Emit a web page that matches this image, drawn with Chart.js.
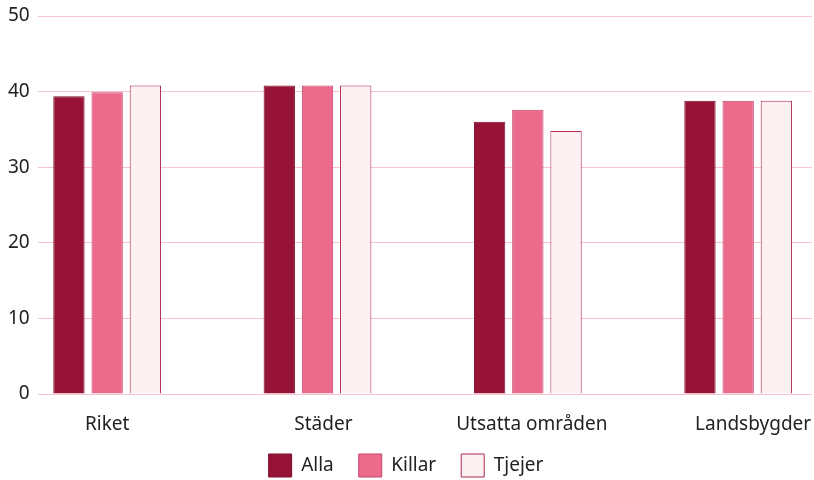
<!DOCTYPE html>
<html>
<head>
<meta charset="utf-8">
<script src="https://cdn.jsdelivr.net/npm/chart.js@4"></script>
<style>
  html, body { margin: 0; padding: 0; background: #fff; }
  #wrap { width: 814px; height: 480px; }
</style>
</head>
<body>
<div id="wrap"><canvas id="chart"></canvas></div>
<script>
const categories = ['Riket', 'Städer', 'Utsatta områden', 'Landsbygder'];
const alla = [39.4, 40.8, 36.0, 38.8];
const killar = [39.9, 40.8, 37.6, 38.8];
const tjejer = [40.8, 40.8, 34.8, 38.8];
const yTicks = [0, 10, 20, 30, 40, 50];

// small nudges of the category labels, in category units
const labelShift = [0, 0.028, 0.019, 0.071];

const toPoints = (values) => values.map((v, i) => ({ x: i, y: v }));

Chart.defaults.font.family = "'Noto Sans', sans-serif";
Chart.defaults.color = '#222';

// pull the legend a bit closer to the category labels
const legendLift = {
    id: 'legendLift',
    afterLayout(chart) {
        chart.legend.top -= 10;
        chart.legend.bottom -= 10;
    }
};

const ctx = document.getElementById('chart').getContext('2d');
new Chart(ctx, {
    type: 'bar',
    data: {
        datasets: [
            {
                label: 'Alla',
                data: toPoints(alla),
                backgroundColor: '#961236',
                borderColor: '#7d0f2d',
                borderWidth: 1
            },
            {
                label: 'Killar',
                data: toPoints(killar),
                backgroundColor: '#ec6a8c',
                borderColor: '#c4466c',
                borderWidth: 1
            },
            {
                label: 'Tjejer',
                data: toPoints(tjejer),
                backgroundColor: '#fcf0f3',
                borderColor: '#b0294f',
                borderWidth: 1
            }
        ]
    },
    options: {
        responsive: true,
        maintainAspectRatio: false,
        animation: false,
        categoryPercentage: 0.55,
        barPercentage: 0.82,
        layout: { padding: { top: 0, right: 2, left: 0, bottom: -17 } },
        scales: {
            x: {
                type: 'linear',
                offset: false,
                min: -0.33,
                max: 3.351,
                grid: { display: false, drawTicks: false },
                border: { display: false },
                afterBuildTicks: (scale) => {
                    scale.ticks = categories.map((c, i) => ({ value: i + labelShift[i] }));
                },
                afterFit: (scale) => {
                    scale.paddingLeft = 0;
                    scale.paddingRight = 0;
                    scale.height = 45;
                },
                ticks: {
                    padding: 19,
                    maxRotation: 0,
                    font: { size: 19 },
                    callback: (value, index) => categories[index]
                }
            },
            y: {
                min: 0,
                max: 50,
                afterBuildTicks: (scale) => {
                    scale.ticks = yTicks.map(v => ({ value: v }));
                },
                afterFit: (scale) => {
                    scale.paddingTop = 16;
                },
                grid: { color: '#f6c3cf', drawTicks: false },
                border: { display: false },
                ticks: {
                    padding: 8,
                    font: { size: 19 }
                }
            }
        },
        plugins: {
            legend: {
                position: 'bottom',
                labels: {
                    boxWidth: 23,
                    boxHeight: 23,
                    padding: 25,
                    font: { size: 19 }
                }
            },
            tooltip: { enabled: false }
        }
    },
    plugins: [legendLift]
});
</script>
</body>
</html>
